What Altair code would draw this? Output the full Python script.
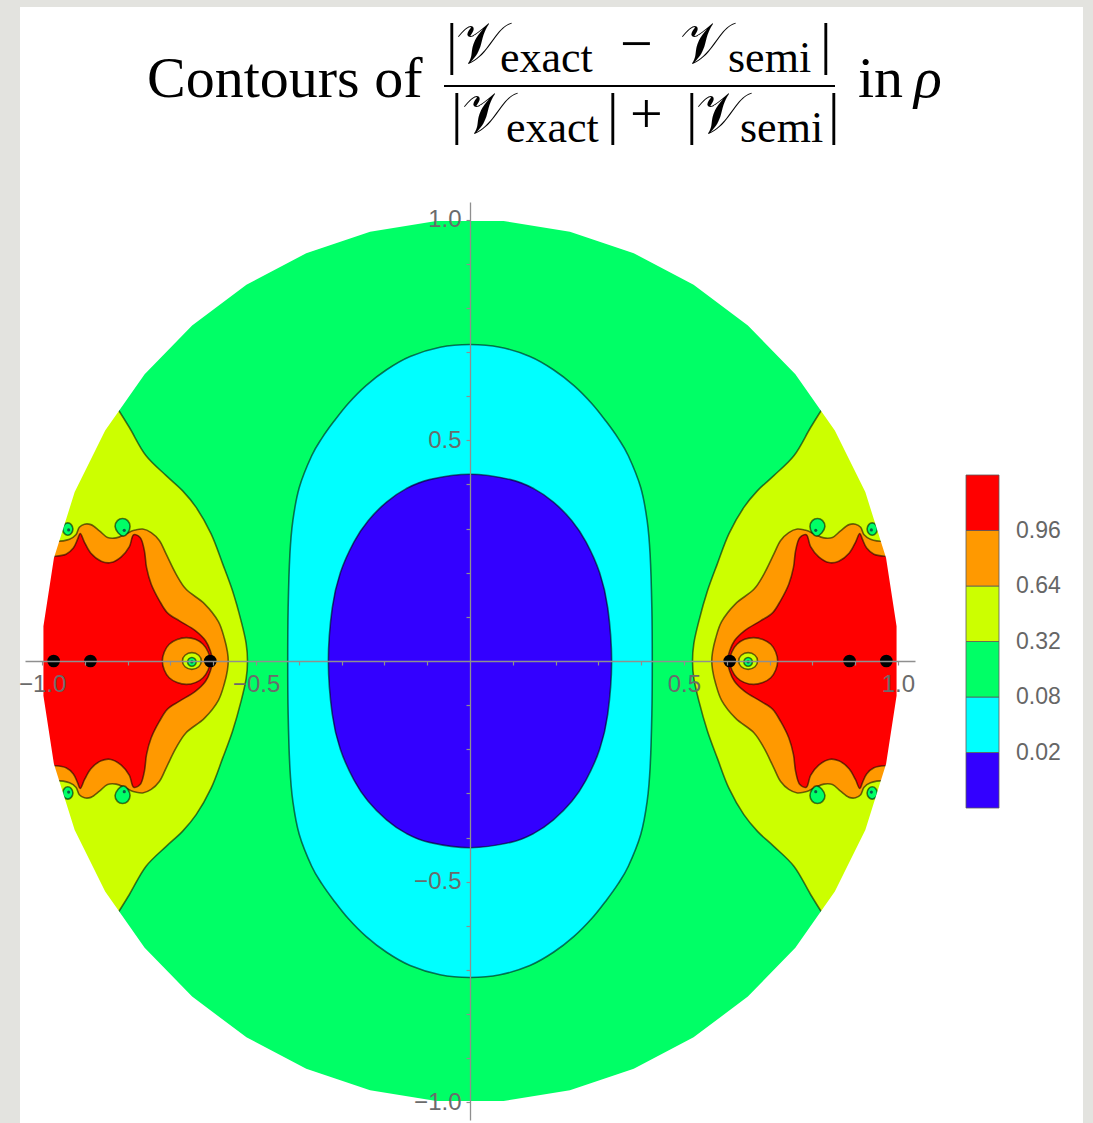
import numpy as np
import pandas as pd
import altair as alt

# ---------------------------------------------------------------- colour bands
levels = [0.02, 0.08, 0.32, 0.64, 0.96]          # contour levels between the bands
band_colors = ["#3300FF", "#00FFFF", "#00FF66", "#CCFF00", "#FF9900", "#FF0000"]
# band index of each region (0 = below 0.02 ... 5 = above 0.96)
B_BLUE, B_CYAN, B_GREEN, B_YELLOW, B_ORANGE, B_RED = 0, 1, 2, 3, 4, 5

# ------------------------------------------------ contour lines, left lobe
# upper half only, running from just outside the rim down to the real axis
yellow_edge = [(-0.870, 0.640), (-0.823, 0.571), (-0.796, 0.529), (-0.757, 0.465),
               (-0.710, 0.420), (-0.672, 0.386), (-0.640, 0.348), (-0.605, 0.288),
               (-0.578, 0.220), (-0.555, 0.159), (-0.535, 0.091), (-0.523, 0.039),
               (-0.520, 0.0)]
orange_edge = [(-1.006, 0.277), (-0.969, 0.271), (-0.936, 0.276), (-0.921, 0.286),
               (-0.913, 0.303), (-0.901, 0.310), (-0.886, 0.309), (-0.866, 0.295),
               (-0.847, 0.280), (-0.827, 0.279), (-0.808, 0.286), (-0.792, 0.294),
               (-0.782, 0.297), (-0.765, 0.299), (-0.745, 0.291), (-0.726, 0.273),
               (-0.710, 0.242), (-0.687, 0.197), (-0.664, 0.163), (-0.621, 0.130),
               (-0.588, 0.089), (-0.574, 0.051), (-0.567, 0.021), (-0.565, 0.0)]
red_edge = [(-1.011, 0.236), (-0.975, 0.237), (-0.944, 0.242), (-0.927, 0.256),
            (-0.917, 0.276), (-0.911, 0.289), (-0.901, 0.269), (-0.886, 0.244),
            (-0.862, 0.226), (-0.839, 0.223), (-0.815, 0.236), (-0.796, 0.259),
            (-0.786, 0.286), (-0.771, 0.280), (-0.761, 0.250), (-0.756, 0.212),
            (-0.745, 0.174), (-0.726, 0.137), (-0.707, 0.109), (-0.679, 0.091),
            (-0.642, 0.069), (-0.618, 0.046), (-0.607, 0.023), (-0.602, 0.0)]

# small closed loops around the left pole
ring_orange = [(-0.719, 0.0), (-0.703, 0.038), (-0.663, 0.053), (-0.624, 0.038),
               (-0.607, 0.0), (-0.624, -0.038), (-0.663, -0.053), (-0.703, -0.038)]
ring_yellow = [(-0.672, 0.0), (-0.666, 0.013), (-0.650, 0.019), (-0.634, 0.013),
               (-0.628, 0.0), (-0.634, -0.013), (-0.650, -0.019), (-0.666, -0.013)]
ring_green = [(-0.660, -0.002), (-0.657, 0.005), (-0.650, 0.008), (-0.643, 0.005),
              (-0.640, -0.002), (-0.643, -0.009), (-0.650, -0.012), (-0.657, -0.009)]
# little islands near the rim (upper-left copy)
island_a = [(-0.952, 0.299), (-0.948, 0.309), (-0.940, 0.313), (-0.932, 0.309),
            (-0.928, 0.299), (-0.932, 0.289), (-0.940, 0.285), (-0.948, 0.289)]
island_b = [(-0.8295, 0.305), (-0.824, 0.318), (-0.812, 0.323), (-0.800, 0.318),
            (-0.7945, 0.305), (-0.800, 0.290), (-0.810, 0.283), (-0.822, 0.290)]

# central bands, upper-left quadrant from the top down to the axis
cyan_edge = [(0.0, 0.717), (-0.070, 0.711), (-0.140, 0.690), (-0.195, 0.660),
             (-0.243, 0.624), (-0.285, 0.583), (-0.318, 0.543), (-0.346, 0.505),
             (-0.370, 0.465), (-0.399, 0.393), (-0.414, 0.318), (-0.421, 0.240),
             (-0.425, 0.120), (-0.426, 0.0)]
blue_edge = [(0.0, 0.423), (-0.095, 0.411), (-0.150, 0.390), (-0.195, 0.360),
             (-0.238, 0.318), (-0.271, 0.270), (-0.303, 0.200), (-0.322, 0.120),
             (-0.331, 0.0)]

# black markers on the real axis and the dark centres of the islands
marker_x = [-0.973, -0.887, -0.607, 0.607, 0.887, 0.973]
centre_pts = [(-0.650, -0.002), (-0.938, 0.297), (-0.808, 0.296)]

tick_values = [round(-1 + 0.1 * i, 1) for i in range(21) if i != 10]

# ---------------------------------------------------------------- geometry
def flip_x(pts):
    return [(-x, y) for x, y in pts]

def flip_y(pts):
    return [(x, -y) for x, y in pts]

def lobe(edge):
    """Edge, its mirror below the axis, then back round outside the rim."""
    lower = [(x, -y) for x, y in reversed(edge[:-1])]
    y0 = edge[0][1]
    back = [(-1.0, -y0), (-1.0, -y0 / 2), (-1.0, 0.0), (-1.0, y0 / 2), (-1.0, y0)]
    return edge + lower + back

def oval(quarter):
    left = quarter + [(x, -y) for x, y in reversed(quarter[:-1])]
    right = [(-x, y) for x, y in reversed(left[1:-1])]
    return left + right

# rim of the unit disc (40-gon) and the white mask outside it
rim_t = np.deg2rad(184.5 + 9.0 * np.arange(41))
rim = list(zip(np.cos(rim_t), np.sin(rim_t)))
L = 1.04
mask_pts = [(-L, L), (L, L), (L, -L), (-L, -L), (-L, rim[0][1])] + rim + [(-L, rim[0][1])]

# ---------------------------------------------------------------- encodings
W, H = 890, 918
axis_common = dict(values=tick_values, title=None, grid=False, zindex=1,
                   labelExpr="abs(datum.value) == 0.5 || abs(datum.value) == 1 ? format(datum.value, '.1f') : ''",
                   domainColor="#8f8f8f", domainWidth=1.3, tickColor="#8f8f8f", tickWidth=1.2,
                   tickSize=4, labelFont="Liberation Sans", labelFontSize=24,
                   labelColor="#6b6b6b", labelFlush=False, labelOverlap=False)
X = alt.X("x:Q", scale=alt.Scale(domain=[-L, L], nice=False, zero=False),
          axis=alt.Axis(orient="bottom", offset=-H / 2, labelPadding=7, **axis_common))
Y = alt.Y("y:Q", scale=alt.Scale(domain=[-L, L], nice=False, zero=False),
          axis=alt.Axis(orient="left", offset=-W / 2, labelPadding=5, **axis_common))
level_labels = "[" + ",".join(f"'{v:.2f}'" for v in levels) + "]"
COLOR = alt.Color("band:Q",
                  scale=alt.Scale(type="threshold", domain=[i + 0.5 for i in range(len(levels))],
                                  range=band_colors),
                  legend=alt.Legend(type="gradient", orient="none", legendX=941, legendY=273,
                                    direction="vertical", gradientLength=333,
                                    gradientThickness=33, title=None,
                                    gradientStrokeColor="#5a5a5a", gradientStrokeWidth=0.8,
                                    labelExpr=f"{level_labels}[round(datum.value - 0.5)]",
                                    labelFont="Liberation Sans", labelFontSize=23,
                                    labelColor="#666666", labelOffset=17,
                                    labelOverlap=False, padding=0))


def region(pts, band, interp="catmull-rom", outline=True):
    df = pd.DataFrame({"x": [p[0] for p in pts], "y": [p[1] for p in pts],
                       "i": list(range(len(pts))), "band": band})
    kw = dict(filled=True, interpolate=interp, clip=False)
    if outline:
        kw.update(stroke="black", strokeOpacity=0.55, strokeWidth=1.6)
    else:
        kw.update(strokeWidth=0)
    return alt.Chart(df).mark_line(**kw).encode(x=X, y=Y, order="i:Q", color=COLOR)


one_row = pd.DataFrame({"k": [0]})
ORIGIN_X, ORIGIN_Y = 25, 202   # top-left of the plotting area on the page

layers = []
# white sheet behind everything
layers.append(alt.Chart(one_row).mark_rect(color="white").encode(
    x=alt.value(20 - ORIGIN_X), x2=alt.value(1083 - ORIGIN_X),
    y=alt.value(7 - ORIGIN_Y), y2=alt.value(1123 - ORIGIN_Y)))

# background band fills the disc
layers.append(region([(-1.03, 1.03), (1.03, 1.03), (1.03, -1.03), (-1.03, -1.03)],
                     B_GREEN, interp="linear", outline=False))
for side in (lambda p: p, flip_x):
    layers.append(region(side(lobe(yellow_edge)), B_YELLOW))
    layers.append(region(side(lobe(orange_edge)), B_ORANGE))
    layers.append(region(side(lobe(red_edge)), B_RED))
    layers.append(region(side(ring_orange), B_ORANGE, "cardinal-closed"))
    layers.append(region(side(ring_yellow), B_YELLOW, "cardinal-closed"))
    layers.append(region(side(ring_green), B_GREEN, "cardinal-closed"))
    for isl in (island_a, island_b):
        layers.append(region(side(isl), B_GREEN, "cardinal-closed"))
        layers.append(region(side(flip_y(isl)), B_GREEN, "cardinal-closed"))
layers.append(region(oval(cyan_edge), B_CYAN, "cardinal-closed"))
layers.append(region(oval(blue_edge), B_BLUE, "cardinal-closed"))

# everything outside the unit disc is blanked out
mask_df = pd.DataFrame({"x": [p[0] for p in mask_pts], "y": [p[1] for p in mask_pts],
                        "i": list(range(len(mask_pts)))})
layers.append(alt.Chart(mask_df).mark_line(filled=True, fill="white", strokeWidth=0,
                                           interpolate="linear", clip=False)
              .encode(x=X, y=Y, order="i:Q"))

# centres of the small loops
cx = [p[0] for p in centre_pts]
cy = [p[1] for p in centre_pts]
centre_df = pd.DataFrame({"x": cx + [-v for v in cx] + cx[1:] + [-v for v in cx[1:]],
                          "y": cy + cy + [-v for v in cy[1:]] + [-v for v in cy[1:]]})
layers.append(alt.Chart(centre_df).mark_circle(color="#0b5e4a", size=10, opacity=1)
              .encode(x=X, y=Y))
marker_df = pd.DataFrame({"x": marker_x, "y": [0.0] * len(marker_x)})
layers.append(alt.Chart(marker_df).mark_circle(color="black", size=160, opacity=1)
              .encode(x=X, y=Y))

# ---------------------------------------------------------------- title
SERIF = "Liberation Serif"
title_pieces = [
    ("Contours of", 147, 97, 58, "normal"),
    ("|", 446, 63, 58, "normal"), ("𝒱", 456, 63, 58, "normal"),
    ("exact", 500, 72, 44, "normal"), ("−", 620, 63, 58, "normal"),
    ("𝒱", 680, 63, 58, "normal"), ("semi", 728, 72, 44, "normal"),
    ("|", 820, 63, 58, "normal"),
    ("|", 451, 133, 58, "normal"), ("𝒱", 462, 133, 58, "normal"),
    ("exact", 506, 142, 44, "normal"), ("|", 607, 133, 58, "normal"),
    ("+", 630, 133, 58, "normal"), ("|", 686, 133, 58, "normal"),
    ("𝒱", 696, 133, 58, "normal"), ("semi", 740, 142, 44, "normal"),
    ("|", 828, 133, 58, "normal"),
    ("in", 858, 97, 58, "normal"), ("ρ", 914, 97, 58, "italic"),
]
for text, px, py, fs, style in title_pieces:
    layers.append(alt.Chart(one_row).mark_text(
        text=text, font=SERIF, fontSize=fs, fontStyle=style, color="black",
        align="left", baseline="alphabetic").encode(
        x=alt.value(px - ORIGIN_X), y=alt.value(py - ORIGIN_Y)))
layers.append(alt.Chart(one_row).mark_rule(color="black", strokeWidth=2).encode(
    x=alt.value(444 - ORIGIN_X), x2=alt.value(835 - ORIGIN_X), y=alt.value(86 - ORIGIN_Y)))

chart = alt.layer(*layers).properties(
    width=W, height=H,
    autosize=alt.AutoSizeParams(type="none"),
    padding={"left": ORIGIN_X, "top": ORIGIN_Y, "right": 1093 - ORIGIN_X - W,
             "bottom": 1123 - ORIGIN_Y - H},
).configure(background="#e3e3df").configure_view(strokeWidth=0)

chart.save("out.html", embed_options={"renderer": "svg", "actions": False})
